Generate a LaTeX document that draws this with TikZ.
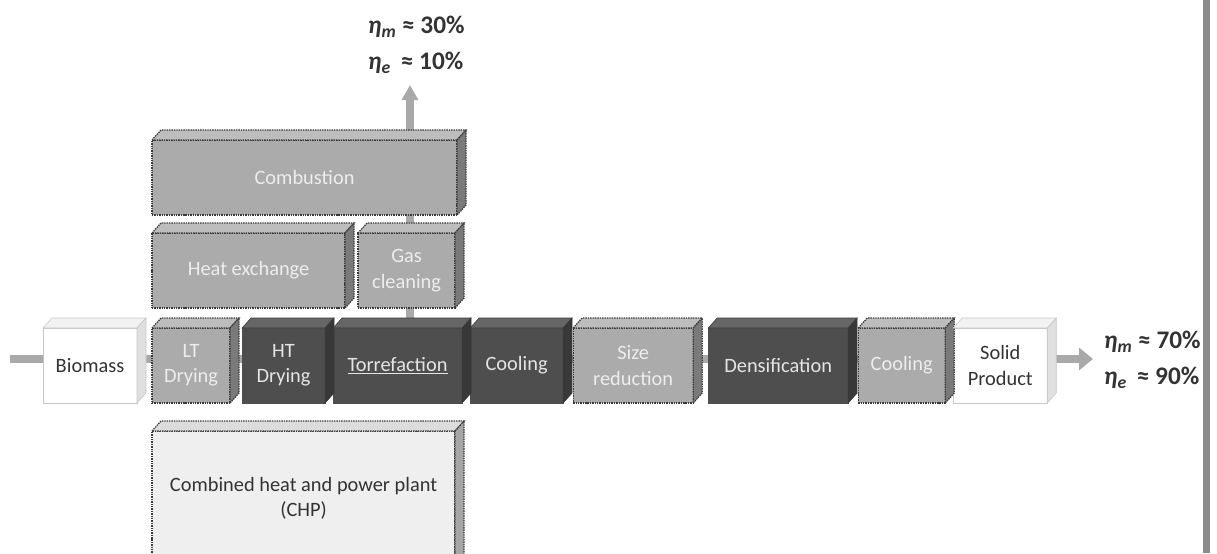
\documentclass[tikz,border=0pt]{standalone}
\usepackage{fontspec}
\setmainfont{Carlito}
\usepackage{tikz}
\usetikzlibrary{arrows.meta,positioning,calc,backgrounds}
\definecolor{procGray}{HTML}{ABABAB}
\definecolor{procGrayTop}{HTML}{BDBDBD}
\definecolor{procGraySide}{HTML}{7A7A7A}
\definecolor{procDark}{HTML}{4E4E4E}
\definecolor{procDarkTop}{HTML}{666666}
\definecolor{procDarkSide}{HTML}{383838}
\definecolor{procEdge}{HTML}{3A3A3A}
\definecolor{procLine}{HTML}{A9A9A9}
\definecolor{procPale}{HTML}{EFEFEF}
\newcommand{\etasub}[1]{\textit{η}\textsubscript{\textit{#1}}}

\begin{document}
\begin{tikzpicture}[
  x=0.025cm,y=-0.025cm,
  font=\fontsize{14.5}{18}\selectfont,
  base/.style={rectangle,outer sep=0pt,inner sep=2pt,align=center,minimum height=1.875cm},
  lightbox/.style={base,fill=procGray,draw=procEdge,dash pattern=on 1pt off 0.7pt,line width=0.9pt,text=white!93!black},
  darkbox/.style={base,fill=procDark,draw=procDark,text=white!90!black},
  whitebox/.style={base,fill=white,draw=black!22,text=black!80},
  palebox/.style={base,fill=procPale,draw=procEdge,dash pattern=on 1pt off 0.7pt,line width=0.9pt,text=black!80},
  gface/.style={draw=procEdge,dash pattern=on 1pt off 0.7pt,line width=0.9pt},
  flow/.style={line width=5pt,color=procLine},
  flowarrow/.style={flow,-{Triangle[length=0.35cm,width=0.55cm]}},
  eta/.style={align=left,font=\fontsize{18}{25.5}\selectfont\bfseries,text=black!80}
]
\useasboundingbox (0,0) rectangle (1217,553);
% main line
\node[whitebox,minimum width=2.35cm,anchor=north west] (bio) at (43,328) {Biomass};
\node[lightbox,minimum width=1.95cm,right=0.375cm of bio] (lt) {LT\\Drying};
\node[darkbox,minimum width=2.075cm,right=0.3cm of lt] (ht) {HT\\Drying};
\node[darkbox,minimum width=3.225cm,right=0.2cm of ht] (tor) {\underline{Torrefaction}};
\node[darkbox,minimum width=2.325cm,right=0.2cm of tor] (cool) {Cooling};
\node[lightbox,minimum width=3cm,right=0.25cm of cool] (size) {Size\\reduction};
\node[darkbox,minimum width=3.5cm,right=0.375cm of size] (dens) {Densification};
\node[lightbox,minimum width=2.175cm,right=0.25cm of dens] (coolb) {Cooling};
\node[whitebox,minimum width=2.35cm,right=0.2cm of coolb] (prod) {Solid\\Product};
% heat supply
\node[lightbox,minimum width=4.825cm,above=0.5cm of lt.north west,anchor=south west] (heat) {Heat exchange};
\node[lightbox,minimum width=2.425cm,right=0.325cm of heat] (gas) {Gas\\cleaning};
\node[lightbox,minimum width=7.625cm,above=0.45cm of heat.north west,anchor=south west] (comb) {Combustion};
\node[palebox,minimum width=7.575cm,minimum height=3.35cm,below=0.7cm of lt.south west,anchor=north west] (chp) {Combined heat and power plant\\(CHP)};
\coordinate (in) at (10,359);
\coordinate (out) at (1093,359);
\coordinate (up) at (410,85);
% box depth
\foreach \n in {lt,size,coolb,comb,heat,gas} {
  \filldraw[gface,fill=procGrayTop] (\n.north west) -- ++(9,-10) -- ($(\n.north east)+(9,-10)$) -- (\n.north east) -- cycle;
  \filldraw[gface,fill=procGraySide] (\n.north east) -- ++(9,-10) -- ($(\n.south east)+(9,-10)$) -- (\n.south east) -- cycle;
}
\foreach \n in {ht,tor,cool,dens} {
  \filldraw[draw=procDarkSide,fill=procDarkTop] (\n.north west) -- ++(9,-10) -- ($(\n.north east)+(9,-10)$) -- (\n.north east) -- cycle;
  \filldraw[draw=procDarkSide,fill=procDarkSide] (\n.north east) -- ++(9,-10) -- ($(\n.south east)+(9,-10)$) -- (\n.south east) -- cycle;
}
\foreach \n in {bio,prod} {
  \filldraw[draw=black!22,fill=white!95!black] (\n.north west) -- ++(9,-10) -- ($(\n.north east)+(9,-10)$) -- (\n.north east) -- cycle;
  \filldraw[draw=black!22,fill=black!12] (\n.north east) -- ++(9,-10) -- ($(\n.south east)+(9,-10)$) -- (\n.south east) -- cycle;
}
\filldraw[gface,fill=procPale!92!black] (chp.north west) -- ++(9,-10) -- ($(chp.north east)+(9,-10)$) -- (chp.north east) -- cycle;
\filldraw[gface,fill=black!35] (chp.north east) -- ++(9,-10) -- ($(chp.south east)+(9,-10)$) -- (chp.south east) -- cycle;
% flows
\begin{scope}[on background layer]
\draw[flow] (in) -- (in -| bio.west);
\foreach \a/\b in {bio/lt,lt/ht,ht/tor,tor/cool,cool/size,size/dens,dens/coolb,coolb/prod}
  \draw[flow] (\a.east |- in) -- (\b.west |- in);
\draw[flowarrow] (prod.east |- in) -- (out);
\draw[flow] (tor.north -| up) -- (gas.south -| up);
\draw[flow] (gas.north -| up) -- (comb.south -| up);
\draw[flowarrow,-{Triangle[length=0.38cm,width=0.4cm]}] (comb.north -| up) -- (up);
\end{scope}
\node[eta,anchor=west] (etaup) at (363,45) {\etasub{m} ≈ 30\%\\\etasub{e}\, ≈ 10\%};
\node[eta,anchor=west] (etaout) at (1099,360) {\etasub{m} ≈ 70\%\\\etasub{e}\, ≈ 90\%};
\fill[black!45] (1203,0) rectangle (1210,553);
\end{tikzpicture}
\end{document}
